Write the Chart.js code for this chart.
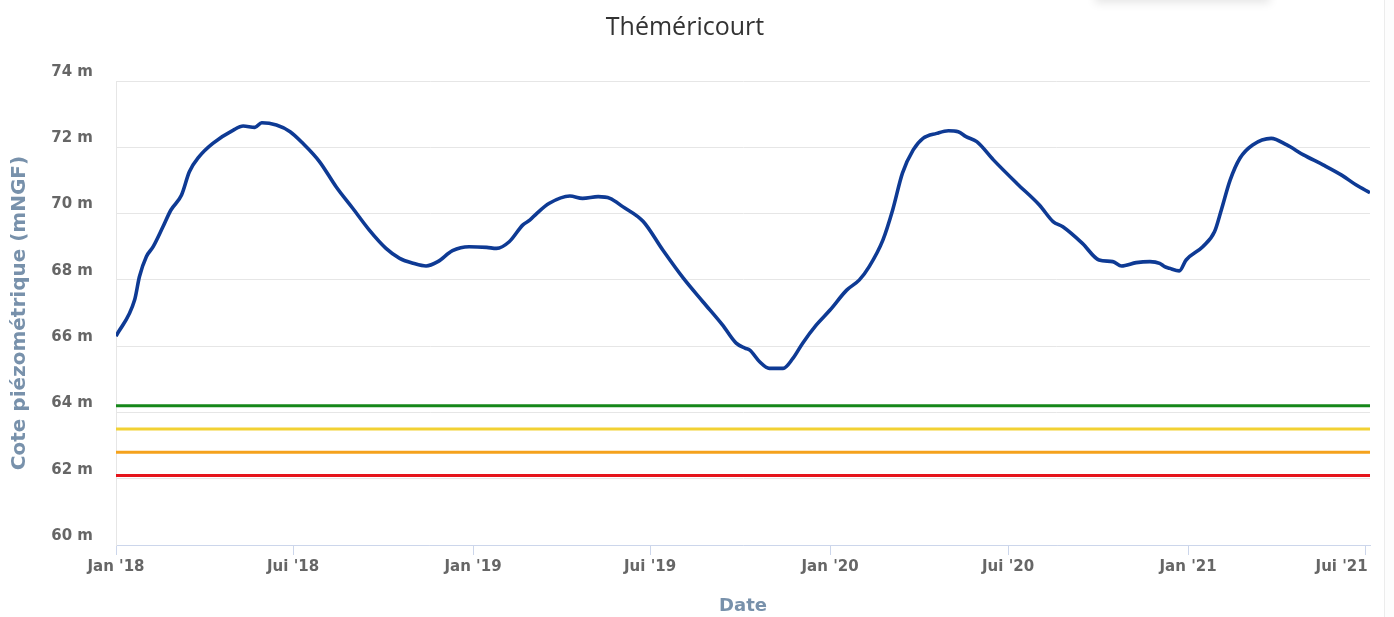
<!DOCTYPE html>
<html>
<head>
<meta charset="utf-8">
<script src="https://cdn.jsdelivr.net/npm/chart.js@4.4.1/dist/chart.umd.min.js"></script>
<style>
  html, body { margin: 0; padding: 0; background: #ffffff; }
  #wrap { position: relative; width: 1394px; height: 617px; overflow: hidden; }
  #edge { position: absolute; left: 1384px; top: 0; width: 10px; height: 617px; border-left: 1px solid #ececec; background: #fdfdfd; }
  #shadow { position: absolute; left: 1095px; top: -30px; width: 175px; height: 30px; box-shadow: 0 3px 10px rgba(0,0,0,0.10); background: #fff; }
  canvas { position: absolute; left: 0; top: 0; }
</style>
</head>
<body>
<div id="wrap">
  <div id="edge"></div>
  <div id="shadow"></div>
  <canvas id="c" width="1394" height="617"></canvas>
</div>
<script>
// ---- Data ----
const chartTitle = "Théméricourt";
const yAxisTitle = "Cote piézométrique (mNGF)";
const xAxisTitle = "Date";

const dates = [
  "2018-01-01","2018-01-20","2018-01-25","2018-02-01","2018-02-08","2018-02-18","2018-02-26","2018-03-09","2018-03-17","2018-03-27",
  "2018-04-10","2018-05-01","2018-05-11","2018-05-23","2018-05-30","2018-06-14","2018-06-28","2018-07-11","2018-07-28","2018-08-14",
  "2018-08-31","2018-09-17","2018-10-04","2018-10-18","2018-11-01","2018-11-14","2018-11-26","2018-12-11","2018-12-28",
  "2019-01-15","2019-01-25","2019-02-07","2019-02-21","2019-02-28","2019-03-07","2019-03-20","2019-04-10","2019-04-23","2019-05-09",
  "2019-05-21","2019-06-03","2019-06-24","2019-07-14","2019-08-04","2019-08-24","2019-09-13","2019-09-27","2019-10-06","2019-10-11",
  "2019-10-21","2019-10-31","2019-11-14","2019-11-24","2019-12-04","2019-12-18",
  "2020-01-01","2020-01-18","2020-01-31","2020-02-10","2020-02-24","2020-03-05","2020-03-15","2020-03-26","2020-04-05","2020-04-19",
  "2020-05-01","2020-05-11","2020-05-19","2020-05-30","2020-06-16","2020-07-10","2020-08-02","2020-08-16","2020-08-26","2020-09-15",
  "2020-10-02","2020-10-16","2020-10-25","2020-11-09","2020-11-23","2020-12-03","2020-12-08","2020-12-13","2020-12-23","2020-12-30",
  "2021-01-16","2021-01-28","2021-02-04","2021-02-13","2021-02-23","2021-03-08","2021-03-27","2021-04-12","2021-04-29","2021-05-19",
  "2021-06-07","2021-06-22","2021-07-06"
];
const levels = [
  66.3, 67.39, 68.1, 68.7, 69.0, 69.6, 70.1, 70.56, 71.26, 71.72,
  72.12, 72.52, 72.64, 72.6, 72.74, 72.67, 72.47, 72.12, 71.57, 70.81,
  70.16, 69.5, 68.95, 68.65, 68.5, 68.42, 68.55, 68.88, 69.0,
  68.98, 68.95, 69.15, 69.66, 69.8, 70.0, 70.31, 70.53, 70.46, 70.51,
  70.46, 70.21, 69.76, 68.9, 68.05, 67.34, 66.64, 66.09, 65.94, 65.88,
  65.53, 65.33, 65.33, 65.63, 66.09, 66.64,
  67.09, 67.69, 68.0, 68.4, 69.2, 70.11, 71.22, 71.92, 72.27, 72.42,
  72.5, 72.47, 72.32, 72.17, 71.62, 70.91, 70.26, 69.76, 69.6, 69.1,
  68.6, 68.55, 68.42, 68.52, 68.55, 68.5, 68.4, 68.35, 68.27, 68.6,
  69.0, 69.45, 70.11, 71.01, 71.67, 72.07, 72.27, 72.07, 71.77, 71.47,
  71.16, 70.86, 70.63
];

// Threshold levels (horizontal lines)
const thresholdValues = [64.2, 63.5, 62.8, 62.1];
const thresholdColors = ["#16871a", "#f2d133", "#f5a21c", "#e5141b"];

// X axis ticks
const tickDates = ["2018-01-01","2018-07-01","2019-01-01","2019-07-01","2020-01-01","2020-07-01","2021-01-01","2021-07-01"];
const tickLabels = ["Jan '18","Jui '18","Jan '19","Jui '19","Jan '20","Jui '20","Jan '21","Jui '21"];
const axisStart = "2018-01-01";
const axisEnd = "2021-07-06";

// Y axis
const yMin = 60, yMax = 74, yStep = 2;

// ---- Helpers ----
function dayNum(s) {
  const [y, m, d] = s.split("-").map(Number);
  const [y0, m0, d0] = axisStart.split("-").map(Number);
  return (Date.UTC(y, m - 1, d) - Date.UTC(y0, m0 - 1, d0)) / 86400000;
}
const tickDays = tickDates.map(dayNum);
const xMax = dayNum(axisEnd);

const seriesData = dates.map((d, i) => ({ x: dayNum(d), y: levels[i] }));

const datasets = thresholdValues.map((v, i) => ({
  data: [{ x: 0, y: v }, { x: xMax, y: v }],
  borderColor: thresholdColors[i],
  borderWidth: 3,
  pointRadius: 0,
  fill: false
}));
datasets.push({
  data: seriesData,
  borderColor: "#0e3a94",
  borderWidth: 3.6,
  pointRadius: 0,
  fill: false,
  cubicInterpolationMode: "monotone"
});

const tickFont = { family: "'DejaVu Sans', sans-serif", size: 15, weight: "bold" };
const axisTitleColor = "#7891ab";

new Chart(document.getElementById("c"), {
  type: "line",
  data: { datasets },
  options: {
    responsive: false,
    animation: false,
    layout: { padding: { left: 0, right: 24, top: 0, bottom: 0 } },
    plugins: {
      legend: { display: false },
      tooltip: { enabled: false },
      title: {
        display: true,
        text: chartTitle,
        color: "#333333",
        font: { family: "'Open Sans', sans-serif", size: 25, weight: "normal", lineHeight: 1.2 },
        padding: { top: 13, bottom: 38 }
      }
    },
    scales: {
      x: {
        type: "linear",
        min: 0,
        max: xMax,
        afterBuildTicks: (scale) => { scale.ticks = tickDays.map(v => ({ value: v })); },
        afterFit: (scale) => { scale.height = 72; scale.paddingLeft = 0; scale.paddingRight = 0; },
        grid: { display: true, drawOnChartArea: false, drawTicks: true, tickLength: 10, color: "#ccd6eb", lineWidth: 1 },
        border: { display: true, color: "#ccd6eb", width: 1 },
        ticks: {
          autoSkip: false,
          maxRotation: 0,
          padding: 3,
          color: "#666666",
          font: tickFont,
          callback: (v) => {
            const i = tickDays.indexOf(v);
            if (i < 0) return "";
            return i === tickDays.length - 1 ? tickLabels[i] + "         " : tickLabels[i];
          }
        },
        title: {
          display: true,
          text: xAxisTitle,
          color: axisTitleColor,
          font: { family: "'DejaVu Sans', sans-serif", size: 18, weight: "bold", lineHeight: 1.2 },
          padding: { top: 0, bottom: 0 }
        }
      },
      y: {
        min: yMin,
        max: yMax,
        afterFit: (scale) => { scale.width = 116; scale.paddingTop = 0; scale.paddingBottom = 0; },
        grid: { color: "#e6e6e6", lineWidth: 1, drawTicks: false },
        border: { display: true, color: "#e6e6e6", width: 1 },
        ticks: {
          stepSize: yStep,
          padding: 23,
          labelOffset: -9,
          color: "#666666",
          font: tickFont,
          callback: (v) => v + " m"
        },
        title: {
          display: true,
          text: yAxisTitle,
          color: axisTitleColor,
          font: { family: "'DejaVu Sans', sans-serif", size: 20, weight: "bold", lineHeight: 1.2 },
          padding: { top: 8, bottom: 0 }
        }
      }
    }
  }
});
</script>
</body>
</html>
